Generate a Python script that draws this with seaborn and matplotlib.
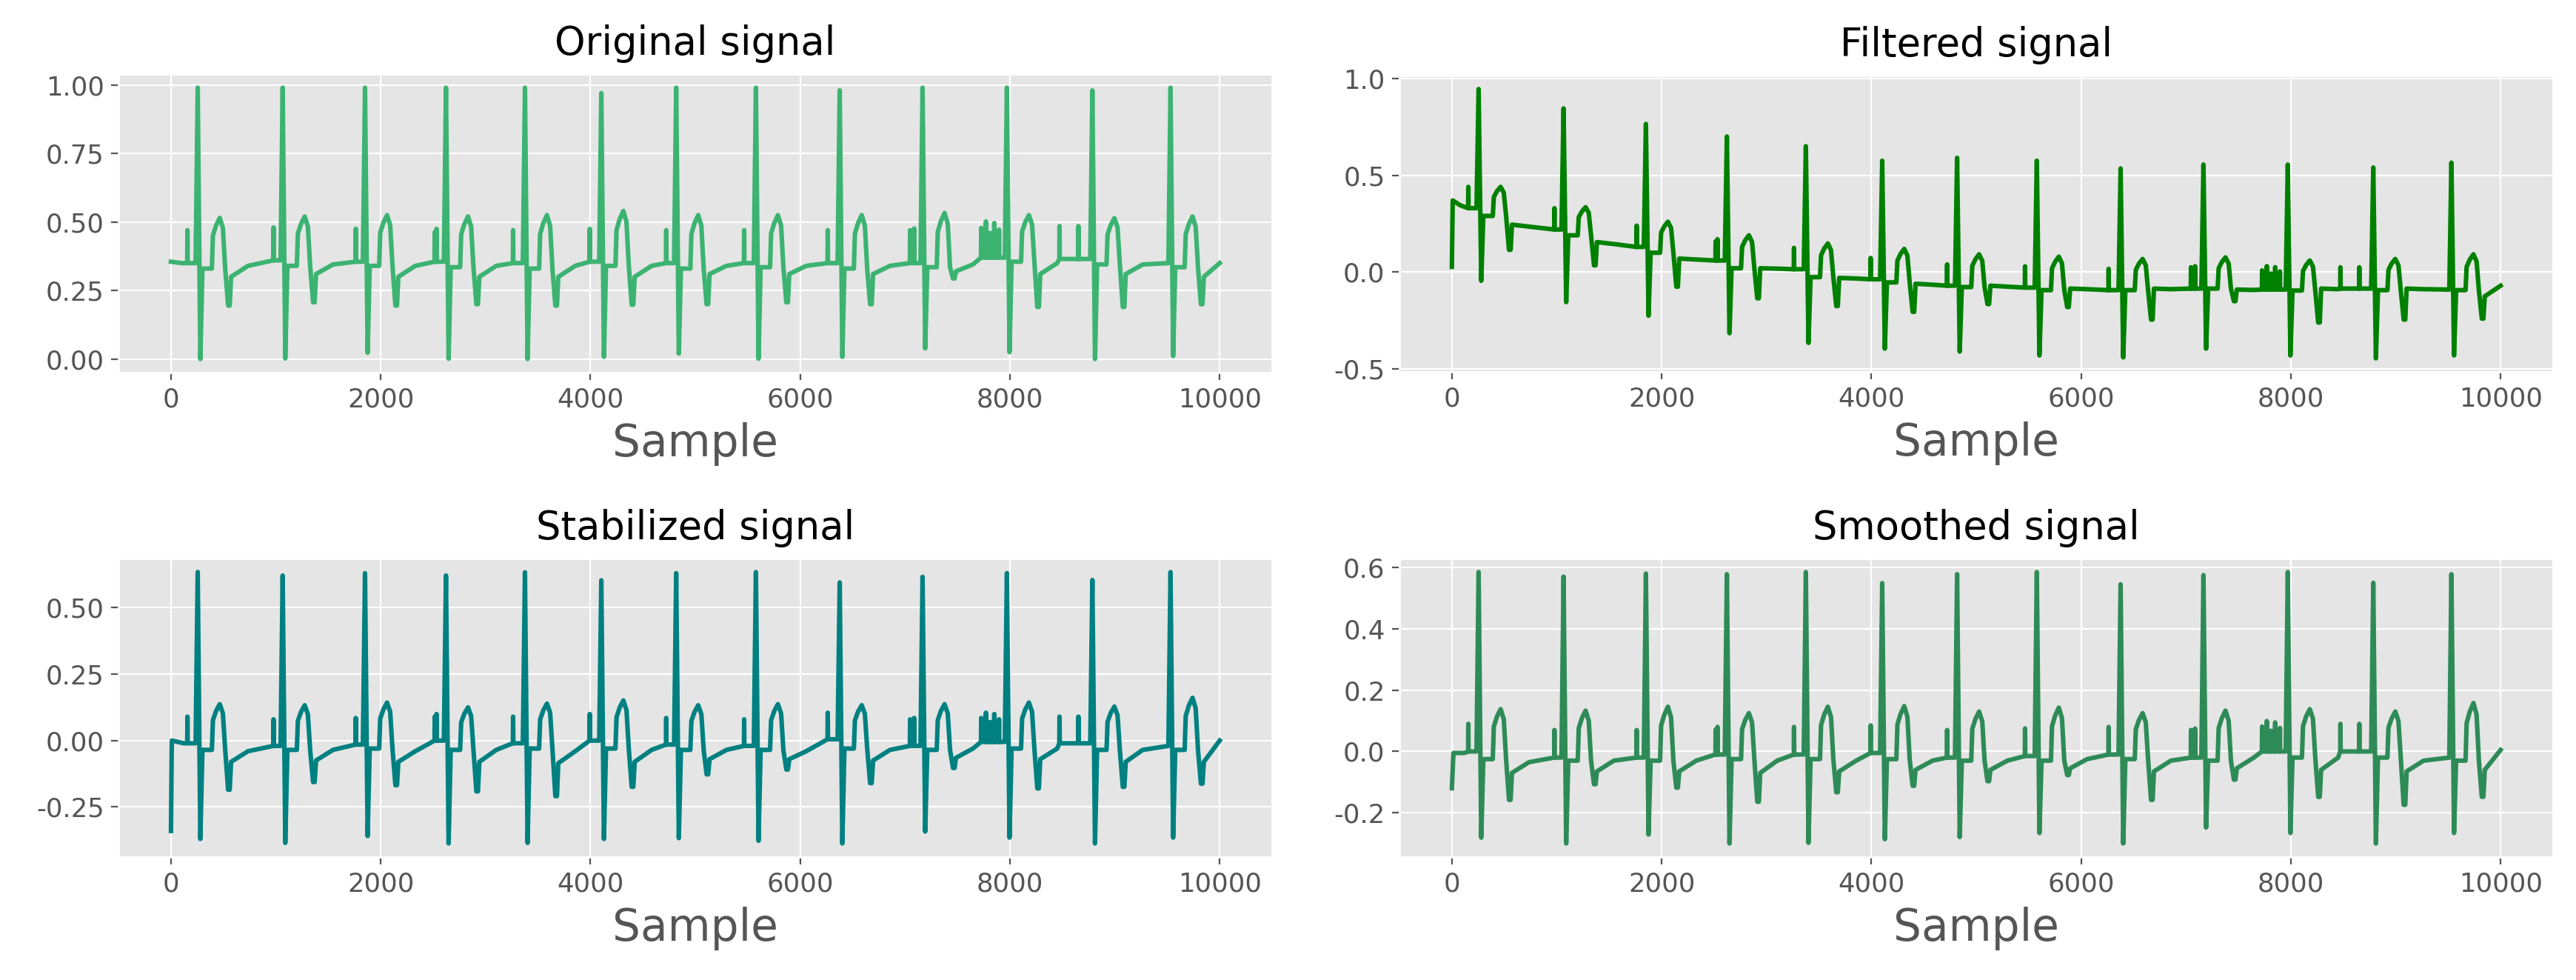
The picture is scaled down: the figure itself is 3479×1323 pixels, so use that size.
import matplotlib
matplotlib.use('Agg')
import numpy as np
import pandas as pd
import matplotlib.pyplot as plt
import seaborn as sns

# ---- data ----
# sample index of every R peak (same recording in all four panels)
R_POS = [255, 1065, 1850, 2622, 3375, 4103, 4817, 5577, 6376, 7166, 7970, 8785, 9530]
# small narrow spikes in front of the QRS complexes, and their relative heights
SPIKE_POS = [157, 978, 1762, 2515, 2532, 3262, 3993, 4722, 5465, 6262, 7047, 7086,
             7725, 7770, 7810, 7850, 7895, 8472, 8652]
SPIKE_REL = [1.0, 1.0, 1.0, 0.9, 1.0, 1.0, 1.0, 1.0, 1.0, 1.0, 1.0, 1.05,
             0.9, 1.1, 0.75, 1.05, 0.85, 1.0, 1.0]
# offsets (samples from the R peak) of the points of one beat, and the T-wave shape
BEAT_OFF = [-20, 0, 25, 45, 135, 145, 175, 210, 240, 262, 290, 305, 318, 480]
T_SHAPE = [0.65, 0.85, 1.0, 0.8]

# Original signal
orig_start = [(0, 0.355), (100, 0.35)]
orig_base = [0.35, 0.36, 0.355, 0.355, 0.35, 0.355, 0.35, 0.35, 0.35, 0.35, 0.37, 0.365, 0.35]
orig_post = [0.33, 0.34, 0.34, 0.335, 0.33, 0.34, 0.33, 0.335, 0.33, 0.335, 0.355, 0.345, 0.335]
orig_r = [0.99, 0.99, 0.99, 0.99, 0.99, 0.97, 0.99, 0.99, 0.98, 0.99, 0.99, 0.98, 0.99]
orig_s = [0.0, 0.002, 0.023, 0.001, 0.0, 0.008, 0.02, 0.001, 0.008, 0.039, 0.025, 0.0, 0.011]
orig_t = [0.515, 0.52, 0.525, 0.52, 0.525, 0.54, 0.525, 0.525, 0.525, 0.533, 0.525, 0.514, 0.52]
orig_dip = [0.195, 0.207, 0.195, 0.2, 0.195, 0.198, 0.2, 0.207, 0.2, 0.294, 0.19, 0.19, 0.2]
orig_rec = [0.30, 0.31, 0.30, 0.30, 0.30, 0.30, 0.31, 0.31, 0.31, 0.32, 0.31, 0.31, 0.30]
orig_settle = [0.34, 0.345, 0.34, 0.34, 0.34, 0.34, 0.34, 0.34, 0.34, 0.345, 0.35, 0.345, 0.34]
orig_end = 0.35

# Filtered signal
filt_start = [(0, 0.027), (8, 0.37), (80, 0.345)]
filt_base = [0.33, 0.22, 0.13, 0.06, 0.015, -0.037, -0.07, -0.08, -0.093, -0.085, -0.09, -0.085, -0.09]
filt_post = [0.29, 0.19, 0.10, 0.02, -0.026, -0.053, -0.077, -0.093, -0.093, -0.085, -0.095, -0.093, -0.093]
filt_r = [0.945, 0.845, 0.765, 0.70, 0.65, 0.575, 0.59, 0.575, 0.535, 0.555, 0.555, 0.54, 0.565]
filt_s = [-0.045, -0.155, -0.225, -0.315, -0.365, -0.395, -0.41, -0.43, -0.44, -0.395, -0.43, -0.445, -0.43]
filt_t = [0.44, 0.335, 0.26, 0.19, 0.148, 0.12, 0.092, 0.08, 0.068, 0.076, 0.06, 0.068, 0.092]
filt_dip = [0.115, 0.035, -0.075, -0.135, -0.175, -0.205, -0.165, -0.18, -0.245, -0.15, -0.26, -0.245, -0.24]
filt_rec = [0.245, 0.155, 0.07, 0.02, -0.03, -0.06, -0.07, -0.085, -0.085, -0.09, -0.085, -0.085, -0.125]
filt_settle = [0.235, 0.145, 0.065, 0.018, -0.033, -0.065, -0.075, -0.088, -0.088, -0.092, -0.088, -0.088, -0.09]
filt_end = -0.07

# Stabilized signal
stab_start = [(0, -0.34), (8, 0.0), (120, -0.01)]
stab_base = [-0.01, -0.02, -0.015, 0.0, -0.01, 0.0, -0.015, -0.02, 0.005, -0.02, -0.005, -0.01, -0.02]
stab_post = [-0.035, -0.035, -0.03, -0.035, -0.03, -0.03, -0.035, -0.035, -0.03, -0.035, -0.03, -0.035, -0.035]
stab_r = [0.634, 0.621, 0.630, 0.621, 0.633, 0.603, 0.630, 0.634, 0.595, 0.616, 0.630, 0.604, 0.634]
stab_s = [-0.370, -0.385, -0.359, -0.387, -0.385, -0.370, -0.367, -0.377, -0.387, -0.342, -0.365, -0.387, -0.365]
stab_t = [0.137, 0.133, 0.143, 0.125, 0.139, 0.151, 0.133, 0.137, 0.133, 0.137, 0.143, 0.128, 0.161]
stab_dip = [-0.185, -0.156, -0.168, -0.191, -0.209, -0.174, -0.127, -0.109, -0.16, -0.103, -0.18, -0.174, -0.162]
stab_rec = [-0.08, -0.075, -0.08, -0.08, -0.085, -0.08, -0.07, -0.07, -0.075, -0.065, -0.07, -0.08, -0.08]
stab_settle = [-0.04, -0.035, -0.04, -0.035, -0.04, -0.035, -0.035, -0.04, -0.035, -0.03, -0.03, -0.035, -0.03]
stab_end = 0.0

# Smoothed signal
smooth_start = [(0, -0.12), (15, -0.005), (120, -0.005)]
smooth_base = [0.0, -0.02, -0.02, -0.01, -0.01, -0.005, -0.02, -0.015, -0.01, -0.02, 0.0, 0.0, -0.02]
smooth_post = [-0.025, -0.03, -0.03, -0.025, -0.025, -0.025, -0.03, -0.03, -0.025, -0.03, -0.02, -0.02, -0.03]
smooth_r = [0.585, 0.57, 0.58, 0.578, 0.585, 0.549, 0.578, 0.585, 0.545, 0.575, 0.585, 0.55, 0.578]
smooth_s = [-0.281, -0.30, -0.271, -0.30, -0.298, -0.286, -0.279, -0.266, -0.30, -0.248, -0.266, -0.30, -0.266]
smooth_t = [0.138, 0.133, 0.146, 0.125, 0.146, 0.148, 0.13, 0.143, 0.125, 0.133, 0.138, 0.13, 0.158]
smooth_dip = [-0.158, -0.107, -0.118, -0.164, -0.133, -0.112, -0.097, -0.077, -0.158, -0.092, -0.148, -0.174, -0.148]
smooth_rec = [-0.07, -0.065, -0.065, -0.07, -0.065, -0.06, -0.06, -0.055, -0.065, -0.055, -0.06, -0.065, -0.06]
smooth_settle = [-0.035, -0.03, -0.03, -0.03, -0.03, -0.03, -0.03, -0.025, -0.03, -0.02, -0.02, -0.03, -0.02]
smooth_end = 0.005

TITLES = ['Original signal', 'Filtered signal', 'Stabilized signal', 'Smoothed signal']
COLORS = ['mediumseagreen', 'green', 'teal', 'seagreen']
SPIKE_H = [0.12, 0.11, 0.10, 0.09]
YTICKS = [[0.0, 0.25, 0.5, 0.75, 1.0], [-0.5, 0.0, 0.5, 1.0],
          [-0.25, 0.0, 0.25, 0.5], [-0.2, 0.0, 0.2, 0.4, 0.6]]
YFMT = ['%.2f', '%.1f', '%.2f', '%.1f']


def build(start, base, post, r, s, t, dip, rec, settle, end, spike_h):
    xs = [p[0] for p in start]
    ys = [p[1] for p in start]
    prev = start[-1][0]
    for i, p in enumerate(R_POS):
        b = base[i]
        for q, rel in zip(SPIKE_POS, SPIKE_REL):
            if prev < q < p - 40:
                xs += [q - 2, q, q + 2]
                ys += [b, b + spike_h * rel, b]
        tv = [post[i] + f * (t[i] - post[i]) for f in T_SHAPE]
        vals = [b, r[i], s[i], post[i], post[i], tv[0], tv[1], tv[2], tv[3],
                post[i], dip[i], dip[i], rec[i], settle[i]]
        for off, v in zip(BEAT_OFF, vals):
            if p + off < 9999:
                xs.append(p + off)
                ys.append(v)
        prev = p + BEAT_OFF[-1]
    xs.append(9999)
    ys.append(end)
    return pd.DataFrame({'Sample': xs, 'Value': ys})


signals = [
    build(orig_start, orig_base, orig_post, orig_r, orig_s, orig_t, orig_dip,
          orig_rec, orig_settle, orig_end, SPIKE_H[0]),
    build(filt_start, filt_base, filt_post, filt_r, filt_s, filt_t, filt_dip,
          filt_rec, filt_settle, filt_end, SPIKE_H[1]),
    build(stab_start, stab_base, stab_post, stab_r, stab_s, stab_t, stab_dip,
          stab_rec, stab_settle, stab_end, SPIKE_H[2]),
    build(smooth_start, smooth_base, smooth_post, smooth_r, smooth_s, smooth_t,
          smooth_dip, smooth_rec, smooth_settle, smooth_end, SPIKE_H[3]),
]

plt.style.use('ggplot')
fig = plt.figure(figsize=(17.4, 6.615), dpi=200)
rects = [[0.046, 0.6198, 0.4477, 0.3046], [0.5431, 0.6206, 0.4477, 0.3023],
         [0.046, 0.1255, 0.4477, 0.3046], [0.5431, 0.1255, 0.4477, 0.3046]]

for k in range(4):
    ax = fig.add_axes(rects[k])
    sns.lineplot(data=signals[k], x='Sample', y='Value', ax=ax, color=COLORS[k],
                 lw=2.2, sort=False, estimator=None)
    ax.set_title(TITLES[k], fontsize=19, pad=9.5)
    ax.set_xlabel('Sample', fontsize=21.5, color='#555555', labelpad=5)
    ax.set_ylabel('')
    ax.set_xticks([0, 2000, 4000, 6000, 8000, 10000])
    ax.set_yticks(YTICKS[k])
    ax.yaxis.set_major_formatter(matplotlib.ticker.FormatStrFormatter(YFMT[k]))
    ax.tick_params(labelsize=12.8, colors='#555555')

fig.savefig('out.png', dpi=200)
